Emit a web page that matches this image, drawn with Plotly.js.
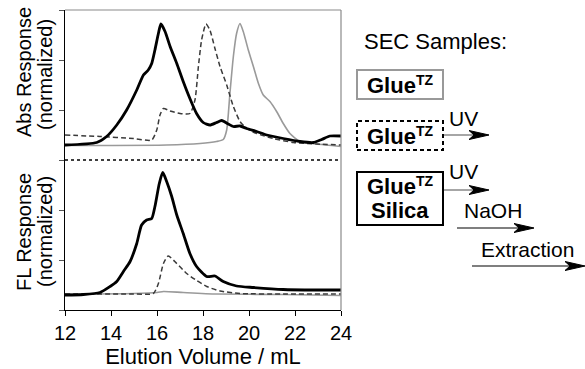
<!DOCTYPE html>
<html>
<head>
<meta charset="utf-8">
<script src="https://cdn.plot.ly/plotly-3.0.1.min.js"></script>
<style>html,body{margin:0;padding:0;background:#fff;}#chart{width:585px;height:369px;}</style>
</head>
<body>
<div id="chart"></div>
<script>
// ---- Data ----
// Upper panel: Abs response (normalized)
var absSilicaX = [12.0,13.38,13.81,14.25,14.68,15.12,15.41,15.62,15.77,15.91,16.06,16.17,16.35,16.57,16.86,17.14,17.43,17.72,18.01,18.30,18.59,18.81,19.10,19.32,19.61,19.90,20.33,20.77,21.49,22.22,22.80,23.16,23.52,24.0];
var absSilicaY = [0.30,0.35,0.47,0.70,1.00,1.40,1.70,1.80,1.93,2.20,2.53,2.72,2.57,2.27,1.93,1.57,1.23,0.93,0.75,0.70,0.75,0.79,0.72,0.67,0.68,0.63,0.57,0.50,0.43,0.37,0.35,0.41,0.48,0.48];

var absUVX = [12.0,13.52,14.97,15.77,15.99,16.13,16.28,16.57,17.0,17.43,17.65,17.80,17.94,18.13,18.30,18.52,18.74,19.03,19.32,19.61,19.90,20.33,21.06,21.93,22.94,24.0];
var absUVY = [0.50,0.47,0.43,0.40,0.60,0.90,1.03,0.98,0.93,0.93,1.20,1.87,2.40,2.72,2.60,2.23,1.87,1.50,1.07,0.77,0.63,0.53,0.43,0.35,0.32,0.30];

var absGlueX = [12.0,16.42,17.87,18.59,18.88,19.03,19.17,19.32,19.46,19.61,19.75,19.97,20.19,20.41,20.62,20.91,21.20,21.49,21.78,22.22,22.94,24.0];
var absGlueY = [0.29,0.30,0.33,0.37,0.41,0.60,1.33,2.07,2.53,2.73,2.57,2.20,1.87,1.53,1.30,1.17,0.97,0.73,0.53,0.37,0.32,0.27];

// Lower panel: FL response (normalized)
var flSilicaX = [12.0,12.8,13.52,13.96,14.25,14.54,14.83,15.12,15.33,15.55,15.77,15.91,16.10,16.25,16.42,16.64,16.86,17.14,17.43,17.72,18.16,18.52,18.88,19.46,20.19,21.49,22.94,24.0];
var flSilicaY = [0.30,0.31,0.35,0.47,0.57,0.77,0.97,1.33,1.70,1.80,1.83,2.07,2.53,2.75,2.57,2.27,1.90,1.53,1.13,0.87,0.67,0.68,0.57,0.48,0.45,0.41,0.40,0.40];

var flUVX = [12.0,14.97,15.84,16.06,16.28,16.49,16.86,17.29,17.72,18.16,18.74,19.61,21.49,24.0];
var flUVY = [0.32,0.32,0.33,0.53,0.93,1.08,0.93,0.73,0.59,0.47,0.38,0.33,0.32,0.32];

var flGlueX = [12.0,14.97,16.0,16.28,17.14,18.59,21.49,24.0];
var flGlueY = [0.32,0.33,0.35,0.37,0.35,0.32,0.31,0.29];

var xTicks = [12,14,16,18,20,22,24];

// ---- Layout helpers (pixel -> paper) ----
var L = 65, R = 341, T = 10, B = 310;
function px(x){ return (x - L) / (R - L); }
function py(y){ return (B - y) / (B - T); }

var FONT = '"Liberation Sans", Arial, Helvetica, sans-serif';
var blackStyle = {color:'#000', width:2.8, shape:'spline', smoothing:0.6};
var dashStyle = {color:'#3a3a3a', width:1.5, dash:'5px,3px', shape:'spline', smoothing:0.6};
var grayStyle = {color:'#9a9a9a', width:1.6, shape:'spline', smoothing:0.6};

var traces = [
  {x:absGlueX, y:absGlueY, xaxis:'x', yaxis:'y2', mode:'lines', line:grayStyle, name:'Glue TZ (Abs)'},
  {x:absUVX, y:absUVY, xaxis:'x', yaxis:'y2', mode:'lines', line:dashStyle, name:'Glue TZ + UV (Abs)'},
  {x:absSilicaX, y:absSilicaY, xaxis:'x', yaxis:'y2', mode:'lines', line:blackStyle, name:'Glue TZ Silica (Abs)'},
  {x:flGlueX, y:flGlueY, xaxis:'x', yaxis:'y', mode:'lines', line:grayStyle, name:'Glue TZ (FL)'},
  {x:flUVX, y:flUVY, xaxis:'x', yaxis:'y', mode:'lines', line:dashStyle, name:'Glue TZ + UV (FL)'},
  {x:flSilicaX, y:flSilicaY, xaxis:'x', yaxis:'y', mode:'lines', line:blackStyle, name:'Glue TZ Silica (FL)'}
];

var yCommon = {range:[0,3], tickvals:[0,1,2,3], showticklabels:false, ticks:'outside', ticklen:5,
  tickcolor:'#555', showline:true, linecolor:'#000', linewidth:1.2, showgrid:false, zeroline:false, fixedrange:true};

function arrowHead(xTip, y){
  var x0 = px(xTip - 20), x1 = px(xTip), yt = py(y - 4.5), yb = py(y + 4.5), ym = py(y), xn = px(xTip - 15);
  return {type:'path', xref:'paper', yref:'paper',
    path:'M '+x1+','+ym+' L '+x0+','+yt+' L '+xn+','+ym+' L '+x0+','+yb+' Z',
    fillcolor:'#000', line:{color:'#000', width:1}};
}

var shapes = [
  // dotted divider between panels
  {type:'line', xref:'paper', yref:'paper', x0:0, x1:1, y0:0.5, y1:0.5, line:{color:'#000', width:1.5, dash:'dot'}},
  // gray top and right frame
  {type:'line', xref:'paper', yref:'paper', x0:0, x1:1, y0:1, y1:1, line:{color:'#8a8a8a', width:1.2}},
  {type:'line', xref:'paper', yref:'paper', x0:1, x1:1, y0:0, y1:1, line:{color:'#8a8a8a', width:1.2}},
  // legend boxes
  {type:'rect', xref:'paper', yref:'paper', x0:px(357), x1:px(443), y0:py(99), y1:py(70), line:{color:'#999', width:2}},
  {type:'rect', xref:'paper', yref:'paper', x0:px(357), x1:px(443), y0:py(150), y1:py(121), line:{color:'#000', width:2, dash:'4px,3px'}},
  {type:'rect', xref:'paper', yref:'paper', x0:px(357), x1:px(443), y0:py(225), y1:py(172), line:{color:'#000', width:2}},
  // arrow shafts
  {type:'line', xref:'paper', yref:'paper', x0:px(444), x1:px(476), y0:py(135), y1:py(135), line:{color:'#888', width:1.5}},
  {type:'line', xref:'paper', yref:'paper', x0:px(444), x1:px(476), y0:py(190), y1:py(190), line:{color:'#888', width:1.5}},
  {type:'line', xref:'paper', yref:'paper', x0:px(457), x1:px(520), y0:py(228), y1:py(228), line:{color:'#555', width:1.5}},
  {type:'line', xref:'paper', yref:'paper', x0:px(472), x1:px(572), y0:py(266), y1:py(266), line:{color:'#555', width:1.5}},
  arrowHead(489, 135), arrowHead(489, 190), arrowHead(534, 228), arrowHead(585, 266)
];

function txt(t, x, y, size, extra){
  var a = {text:t, xref:'paper', yref:'paper', x:px(x), y:py(y), xanchor:'center', yanchor:'middle',
    showarrow:false, font:{family:FONT, size:size, color:'#000'}};
  for (var k in extra) a[k] = extra[k];
  return a;
}
var glue = '<b>Glue<span style="font-size:20px"><sup>TZ</sup></span></b>';

var annotations = [
  txt('Abs Response', 24, 72, 20, {textangle:-90}),
  txt('(normalized)', 45, 75, 20, {textangle:-90}),
  txt('FL Response', 24, 232, 20, {textangle:-90}),
  txt('(normalized)', 45, 232, 20, {textangle:-90}),
  txt('SEC Samples:', 435, 41, 22),
  txt(glue, 400, 85, 22),
  txt(glue, 400, 136, 22),
  txt(glue, 400, 186, 22),
  txt('<b>Silica</b>', 400, 211, 22),
  txt('UV', 463, 119, 21),
  txt('UV', 463, 171, 21),
  txt('NaOH', 493, 211, 21),
  txt('Extraction', 527, 249, 21)
];

var layout = {
  width:585, height:369,
  margin:{l:L, r:585-R, t:T, b:369-B, pad:0},
  paper_bgcolor:'#fff', plot_bgcolor:'#fff',
  showlegend:false,
  font:{family:FONT, size:20, color:'#000'},
  xaxis:{range:[12,24], tickvals:xTicks, ticktext:xTicks.map(String), ticks:'outside', ticklen:5, tickcolor:'#000',
    showline:true, linecolor:'#000', linewidth:1.2, showgrid:false, zeroline:false, anchor:'y',
    tickfont:{family:FONT, size:20, color:'#000'},
    title:{text:'Elution Volume / mL', font:{family:FONT, size:22, color:'#000'}, standoff:8}},
  yaxis:Object.assign({domain:[0,0.5], anchor:'x'}, yCommon),
  yaxis2:Object.assign({domain:[0.5,1], anchor:'x'}, yCommon),
  shapes:shapes,
  annotations:annotations
};

Plotly.newPlot('chart', traces, layout, {staticPlot:true, displayModeBar:false});
</script>
</body>
</html>
